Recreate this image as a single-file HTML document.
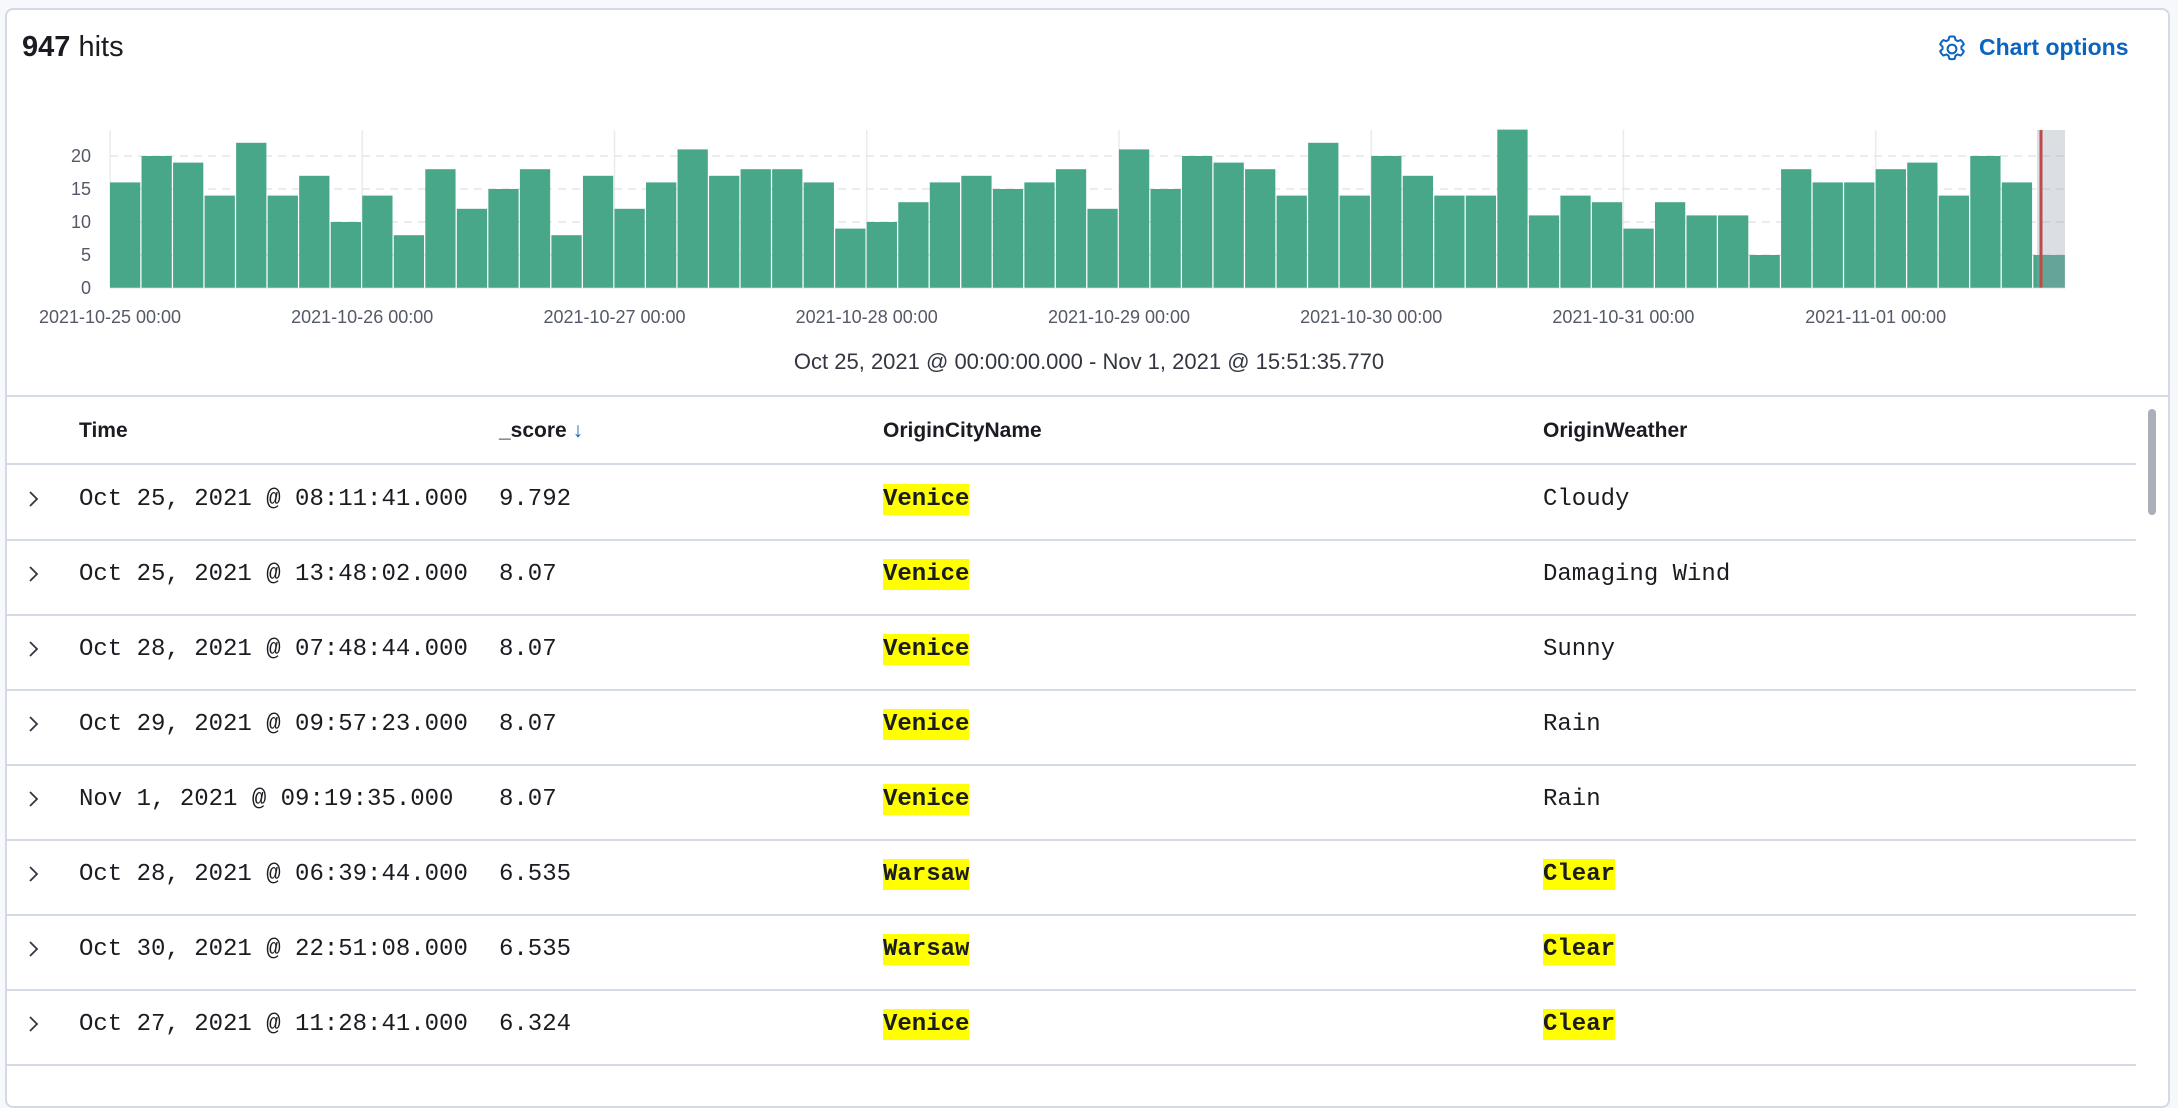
<!DOCTYPE html>
<html><head><meta charset="utf-8"><style>
*{margin:0;padding:0;box-sizing:border-box}
body{width:2178px;height:1072px;background:#f7f8fc;position:relative;overflow:hidden;font-family:"Liberation Sans",sans-serif;color:#1a1c21}
#panel{position:absolute;left:5px;top:8px;width:2165px;height:1100px;background:#fff;border:2px solid #d3dae6;border-radius:8px}
.a{position:absolute;white-space:nowrap}
.mono{font-family:"Liberation Mono",monospace;font-size:24px;color:#1a1c21}
.hl{background:#ffff00;font-weight:bold;padding:2px 0}
.line{position:absolute;left:5px;width:2131px;height:2px;background:#d3dae6}
.th{font-weight:bold;font-size:21px}
</style></head><body>
<div id="panel"></div>
<div class="a" style="left:22px;top:31px;font-size:29px"><b>947</b> hits</div>
<svg class="a" style="left:1938px;top:35px" width="28" height="28" viewBox="1.5 1.5 21 21"><path d="M12 2.5l2 .3.6 2.4 1.6.9 2.3-.8 1.4 1.4 1 1.8-1.8 1.7v1.8l1.8 1.7-1 1.8-1.4 1.4-2.3-.8-1.6.9-.6 2.4-2 .3-2-.3-.6-2.4-1.6-.9-2.3.8-1.4-1.4-1-1.8 1.8-1.7v-1.8L3.1 8.5l1-1.8 1.4-1.4 2.3.8 1.6-.9.6-2.4z" fill="none" stroke="#0b64c0" stroke-width="1.5" stroke-linejoin="round"/><circle cx="12" cy="12" r="3.3" fill="none" stroke="#0b64c0" stroke-width="1.5"/></svg>
<div class="a" style="left:1979px;top:34px;font-size:23px;font-weight:bold;color:#0b64c0">Chart options</div>

<svg class="a" style="left:0;top:0" width="2178" height="400">
<g stroke="#e9ebf0" stroke-width="1.5">
<line x1="110" y1="130" x2="110" y2="288"/><line x1="362.2" y1="130" x2="362.2" y2="288"/><line x1="614.5" y1="130" x2="614.5" y2="288"/><line x1="866.7" y1="130" x2="866.7" y2="288"/><line x1="1119" y1="130" x2="1119" y2="288"/><line x1="1371.2" y1="130" x2="1371.2" y2="288"/><line x1="1623.4" y1="130" x2="1623.4" y2="288"/><line x1="1875.7" y1="130" x2="1875.7" y2="288"/>
</g>
<g stroke="#e3e5ea" stroke-width="1.5" stroke-dasharray="8 6">
<line x1="110" y1="255" x2="2065" y2="255"/><line x1="110" y1="222" x2="2065" y2="222"/><line x1="110" y1="189" x2="2065" y2="189"/><line x1="110" y1="156" x2="2065" y2="156"/>
</g>
<g transform="translate(110,288) scale(31.53,-6.6)" fill="#48a789">
<rect x="0" width="0.96" height="16"/><rect x="1" width="0.96" height="20"/><rect x="2" width="0.96" height="19"/><rect x="3" width="0.96" height="14"/><rect x="4" width="0.96" height="22"/><rect x="5" width="0.96" height="14"/><rect x="6" width="0.96" height="17"/><rect x="7" width="0.96" height="10"/><rect x="8" width="0.96" height="14"/><rect x="9" width="0.96" height="8"/>
<rect x="10" width="0.96" height="18"/><rect x="11" width="0.96" height="12"/><rect x="12" width="0.96" height="15"/><rect x="13" width="0.96" height="18"/><rect x="14" width="0.96" height="8"/><rect x="15" width="0.96" height="17"/><rect x="16" width="0.96" height="12"/><rect x="17" width="0.96" height="16"/><rect x="18" width="0.96" height="21"/><rect x="19" width="0.96" height="17"/>
<rect x="20" width="0.96" height="18"/><rect x="21" width="0.96" height="18"/><rect x="22" width="0.96" height="16"/><rect x="23" width="0.96" height="9"/><rect x="24" width="0.96" height="10"/><rect x="25" width="0.96" height="13"/><rect x="26" width="0.96" height="16"/><rect x="27" width="0.96" height="17"/><rect x="28" width="0.96" height="15"/><rect x="29" width="0.96" height="16"/>
<rect x="30" width="0.96" height="18"/><rect x="31" width="0.96" height="12"/><rect x="32" width="0.96" height="21"/><rect x="33" width="0.96" height="15"/><rect x="34" width="0.96" height="20"/><rect x="35" width="0.96" height="19"/><rect x="36" width="0.96" height="18"/><rect x="37" width="0.96" height="14"/><rect x="38" width="0.96" height="22"/><rect x="39" width="0.96" height="14"/>
<rect x="40" width="0.96" height="20"/><rect x="41" width="0.96" height="17"/><rect x="42" width="0.96" height="14"/><rect x="43" width="0.96" height="14"/><rect x="44" width="0.96" height="24"/><rect x="45" width="0.96" height="11"/><rect x="46" width="0.96" height="14"/><rect x="47" width="0.96" height="13"/><rect x="48" width="0.96" height="9"/><rect x="49" width="0.96" height="13"/>
<rect x="50" width="0.96" height="11"/><rect x="51" width="0.96" height="11"/><rect x="52" width="0.96" height="5"/><rect x="53" width="0.96" height="18"/><rect x="54" width="0.96" height="16"/><rect x="55" width="0.96" height="16"/><rect x="56" width="0.96" height="18"/><rect x="57" width="0.96" height="19"/><rect x="58" width="0.96" height="14"/><rect x="59" width="0.96" height="20"/>
<rect x="60" width="0.96" height="16"/><rect x="61" width="1" height="5"/>
</g>
<rect x="2037" y="130" width="28" height="158" fill="#98a2b3" fill-opacity="0.35"/>
<rect x="2039.5" y="130" width="3" height="158" fill="#bd4c48"/>
<line x1="110" y1="288.5" x2="2065" y2="288.5" stroke="#eef0f3" stroke-width="1.5"/>
<g font-family="Liberation Sans,sans-serif" font-size="18" fill="#535966" text-anchor="end">
<text x="91" y="294">0</text><text x="91" y="261">5</text><text x="91" y="228">10</text><text x="91" y="195">15</text><text x="91" y="162">20</text>
</g>
<g font-family="Liberation Sans,sans-serif" font-size="18" fill="#535966" text-anchor="middle">
<text x="110" y="323">2021-10-25 00:00</text><text x="362.2" y="323">2021-10-26 00:00</text><text x="614.5" y="323">2021-10-27 00:00</text><text x="866.7" y="323">2021-10-28 00:00</text><text x="1119" y="323">2021-10-29 00:00</text><text x="1371.2" y="323">2021-10-30 00:00</text><text x="1623.4" y="323">2021-10-31 00:00</text><text x="1875.7" y="323">2021-11-01 00:00</text>
</g>
<text x="1089" y="369" font-family="Liberation Sans,sans-serif" font-size="22" fill="#343741" text-anchor="middle">Oct 25, 2021 @ 00:00:00.000 - Nov 1, 2021 @ 15:51:35.770</text>
</svg>

<div class="a" style="left:5px;top:395px;width:2165px;height:2px;background:#d3dae6"></div>
<div class="a th" style="left:79px;top:419px">Time</div>
<div class="a th" style="left:499px;top:419px">_score <span style="color:#0b64c0;font-weight:normal">↓</span></div>
<div class="a th" style="left:883px;top:419px">OriginCityName</div>
<div class="a th" style="left:1543px;top:419px">OriginWeather</div>
<div class="line" style="top:463px"></div>
<div class="a" style="left:2148px;top:409px;width:8px;height:106px;border-radius:4px;background:#abb0b8"></div>

<div class="line" style="top:539px"></div><div class="line" style="top:614px"></div><div class="line" style="top:689px"></div><div class="line" style="top:764px"></div><div class="line" style="top:839px"></div><div class="line" style="top:914px"></div><div class="line" style="top:989px"></div><div class="line" style="top:1064px"></div>

<svg class="a" style="left:0;top:0" width="60" height="1072"><g fill="none" stroke="#343741" stroke-width="1.8">
<polyline points="30,492 37,499 30,506"/><polyline points="30,567 37,574 30,581"/><polyline points="30,642 37,649 30,656"/><polyline points="30,717 37,724 30,731"/><polyline points="30,792 37,799 30,806"/><polyline points="30,867 37,874 30,881"/><polyline points="30,942 37,949 30,956"/><polyline points="30,1017 37,1024 30,1031"/></g></svg>

<div class="a mono" style="left:79px;top:486px">Oct 25, 2021 @ 08:11:41.000</div><div class="a mono" style="left:499px;top:486px">9.792</div><div class="a mono" style="left:883px;top:486px"><span class="hl">Venice</span></div><div class="a mono" style="left:1543px;top:486px">Cloudy</div>
<div class="a mono" style="left:79px;top:561px">Oct 25, 2021 @ 13:48:02.000</div><div class="a mono" style="left:499px;top:561px">8.07</div><div class="a mono" style="left:883px;top:561px"><span class="hl">Venice</span></div><div class="a mono" style="left:1543px;top:561px">Damaging Wind</div>
<div class="a mono" style="left:79px;top:636px">Oct 28, 2021 @ 07:48:44.000</div><div class="a mono" style="left:499px;top:636px">8.07</div><div class="a mono" style="left:883px;top:636px"><span class="hl">Venice</span></div><div class="a mono" style="left:1543px;top:636px">Sunny</div>
<div class="a mono" style="left:79px;top:711px">Oct 29, 2021 @ 09:57:23.000</div><div class="a mono" style="left:499px;top:711px">8.07</div><div class="a mono" style="left:883px;top:711px"><span class="hl">Venice</span></div><div class="a mono" style="left:1543px;top:711px">Rain</div>
<div class="a mono" style="left:79px;top:786px">Nov 1, 2021 @ 09:19:35.000</div><div class="a mono" style="left:499px;top:786px">8.07</div><div class="a mono" style="left:883px;top:786px"><span class="hl">Venice</span></div><div class="a mono" style="left:1543px;top:786px">Rain</div>
<div class="a mono" style="left:79px;top:861px">Oct 28, 2021 @ 06:39:44.000</div><div class="a mono" style="left:499px;top:861px">6.535</div><div class="a mono" style="left:883px;top:861px"><span class="hl">Warsaw</span></div><div class="a mono" style="left:1543px;top:861px"><span class="hl">Clear</span></div>
<div class="a mono" style="left:79px;top:936px">Oct 30, 2021 @ 22:51:08.000</div><div class="a mono" style="left:499px;top:936px">6.535</div><div class="a mono" style="left:883px;top:936px"><span class="hl">Warsaw</span></div><div class="a mono" style="left:1543px;top:936px"><span class="hl">Clear</span></div>
<div class="a mono" style="left:79px;top:1011px">Oct 27, 2021 @ 11:28:41.000</div><div class="a mono" style="left:499px;top:1011px">6.324</div><div class="a mono" style="left:883px;top:1011px"><span class="hl">Venice</span></div><div class="a mono" style="left:1543px;top:1011px"><span class="hl">Clear</span></div>
</body></html>
